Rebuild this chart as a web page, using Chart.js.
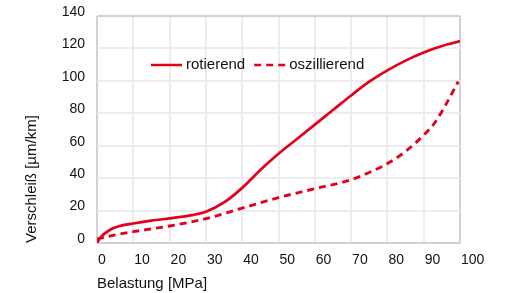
<!DOCTYPE html>
<html>
<head>
<meta charset="utf-8">
<script src="https://cdn.jsdelivr.net/npm/chart.js@4"></script>
<style>
  html, body { margin: 0; padding: 0; background: #fff; }
  #wrap { width: 510px; height: 293px; }
</style>
</head>
<body>
<div id="wrap"><canvas id="chart" width="510" height="293"></canvas></div>
<script>
// Werte
const belastungRot = [0, 1, 3.5, 6, 10, 15, 20, 25, 30, 35, 40, 45, 50, 55, 60, 65, 70, 75, 80, 85, 90, 95, 100];
const verschleissRot = [0, 3.5, 8, 10.3, 12, 13.8, 15.2, 16.7, 19.3, 25, 34, 45, 55, 64, 73, 82, 91, 99.5, 106.5, 112.5, 117.5, 121.5, 124.5];

const belastungOsz = [0, 5, 10, 20, 30, 40, 50, 60, 70, 75, 80, 85, 90, 93, 96, 99.5];
const verschleissOsz = [2.5, 5, 7, 10.5, 15, 21.5, 28, 33.5, 39, 43.5, 49, 56.5, 66.5, 74, 85, 99.5];

const xTicks = [0, 10, 20, 30, 40, 50, 60, 70, 80, 90, 100];
const yTicks = [0, 20, 40, 60, 80, 100, 120, 140];

const ROT = '#e3001b';
const GRID = '#ececec';
const RAHMEN = '#d2d2d2';
const FONT = "'Liberation Sans', Arial, sans-serif";

function toPoints(xs, ys) {
    return xs.map((x, i) => ({ x: x, y: ys[i] }));
}

// Legende innerhalb der Zeichenfläche
const innerLegend = {
    id: 'innerLegend',
    afterDatasetsDraw(chart) {
        const ctx = chart.ctx;
        const area = chart.chartArea;
        let x = area.left + 54;
        const y = area.top + 49;
        ctx.save();
        ctx.font = '15px ' + FONT;
        ctx.textBaseline = 'middle';
        chart.data.datasets.forEach(ds => {
            ctx.strokeStyle = ds.borderColor;
            ctx.lineWidth = 2.5;
            ctx.setLineDash(ds.borderDash || []);
            ctx.beginPath();
            ctx.moveTo(x, y);
            ctx.lineTo(x + 31, y);
            ctx.stroke();
            ctx.setLineDash([]);
            ctx.fillStyle = '#111';
            ctx.fillText(ds.label, x + 35, y);
            x += 35 + ctx.measureText(ds.label).width + 9;
        });
        ctx.restore();
    }
};

function gridColor(ctx, min, max) {
    const v = ctx.tick ? ctx.tick.value : null;
    return (v === min || v === max) ? RAHMEN : GRID;
}

new Chart(document.getElementById('chart'), {
    type: 'line',
    data: {
        datasets: [
            {
                label: 'rotierend',
                data: toPoints(belastungRot, verschleissRot),
                borderColor: ROT,
                borderWidth: 2.7,
                pointRadius: 0,
                cubicInterpolationMode: 'monotone',
                fill: false
            },
            {
                label: 'oszillierend',
                data: toPoints(belastungOsz, verschleissOsz),
                borderColor: ROT,
                borderWidth: 2.9,
                borderDash: [7, 5],
                pointRadius: 0,
                cubicInterpolationMode: 'monotone',
                fill: false
            }
        ]
    },
    options: {
        responsive: false,
        animation: false,
        layout: { padding: { left: 0, top: 16, right: 50, bottom: 0 } },
        plugins: {
            legend: { display: false },
            tooltip: { enabled: false }
        },
        scales: {
            x: {
                type: 'linear',
                min: 0,
                max: 100,
                afterBuildTicks: s => { s.ticks = xTicks.map(v => ({ value: v })); },
                afterFit: s => { s.height = 50; },
                grid: {
                    drawTicks: false,
                    lineWidth: 2,
                    color: c => gridColor(c, 0, 100)
                },
                border: { display: false },
                ticks: {
                    align: 'start',
                    labelOffset: 1,
                    padding: 9,
                    color: '#111',
                    font: { family: FONT, size: 14 }
                },
                title: {
                    display: true,
                    text: 'Belastung [MPa]',
                    align: 'start',
                    color: '#111',
                    font: { family: FONT, size: 15 },
                    padding: { top: 0, bottom: 0 }
                }
            },
            y: {
                min: 0,
                max: 140,
                afterBuildTicks: s => { s.ticks = yTicks.map(v => ({ value: v })); },
                afterFit: s => {
                    s.width = 97;
                    // Überhang der Beschriftung nicht als Rand reservieren
                    s.paddingTop = 0;
                    s.paddingBottom = 0;
                },
                grid: {
                    drawTicks: false,
                    lineWidth: 2,
                    color: c => gridColor(c, 0, 140)
                },
                border: { display: false },
                ticks: {
                    labelOffset: -4,
                    padding: 12,
                    color: '#111',
                    font: { family: FONT, size: 14 }
                },
                title: {
                    display: true,
                    text: 'Verschleiß [µm/km]',
                    align: 'start',
                    color: '#111',
                    font: { family: FONT, size: 15 },
                    padding: { top: 23, bottom: 0 }
                }
            }
        }
    },
    plugins: [innerLegend]
});
</script>
</body>
</html>
